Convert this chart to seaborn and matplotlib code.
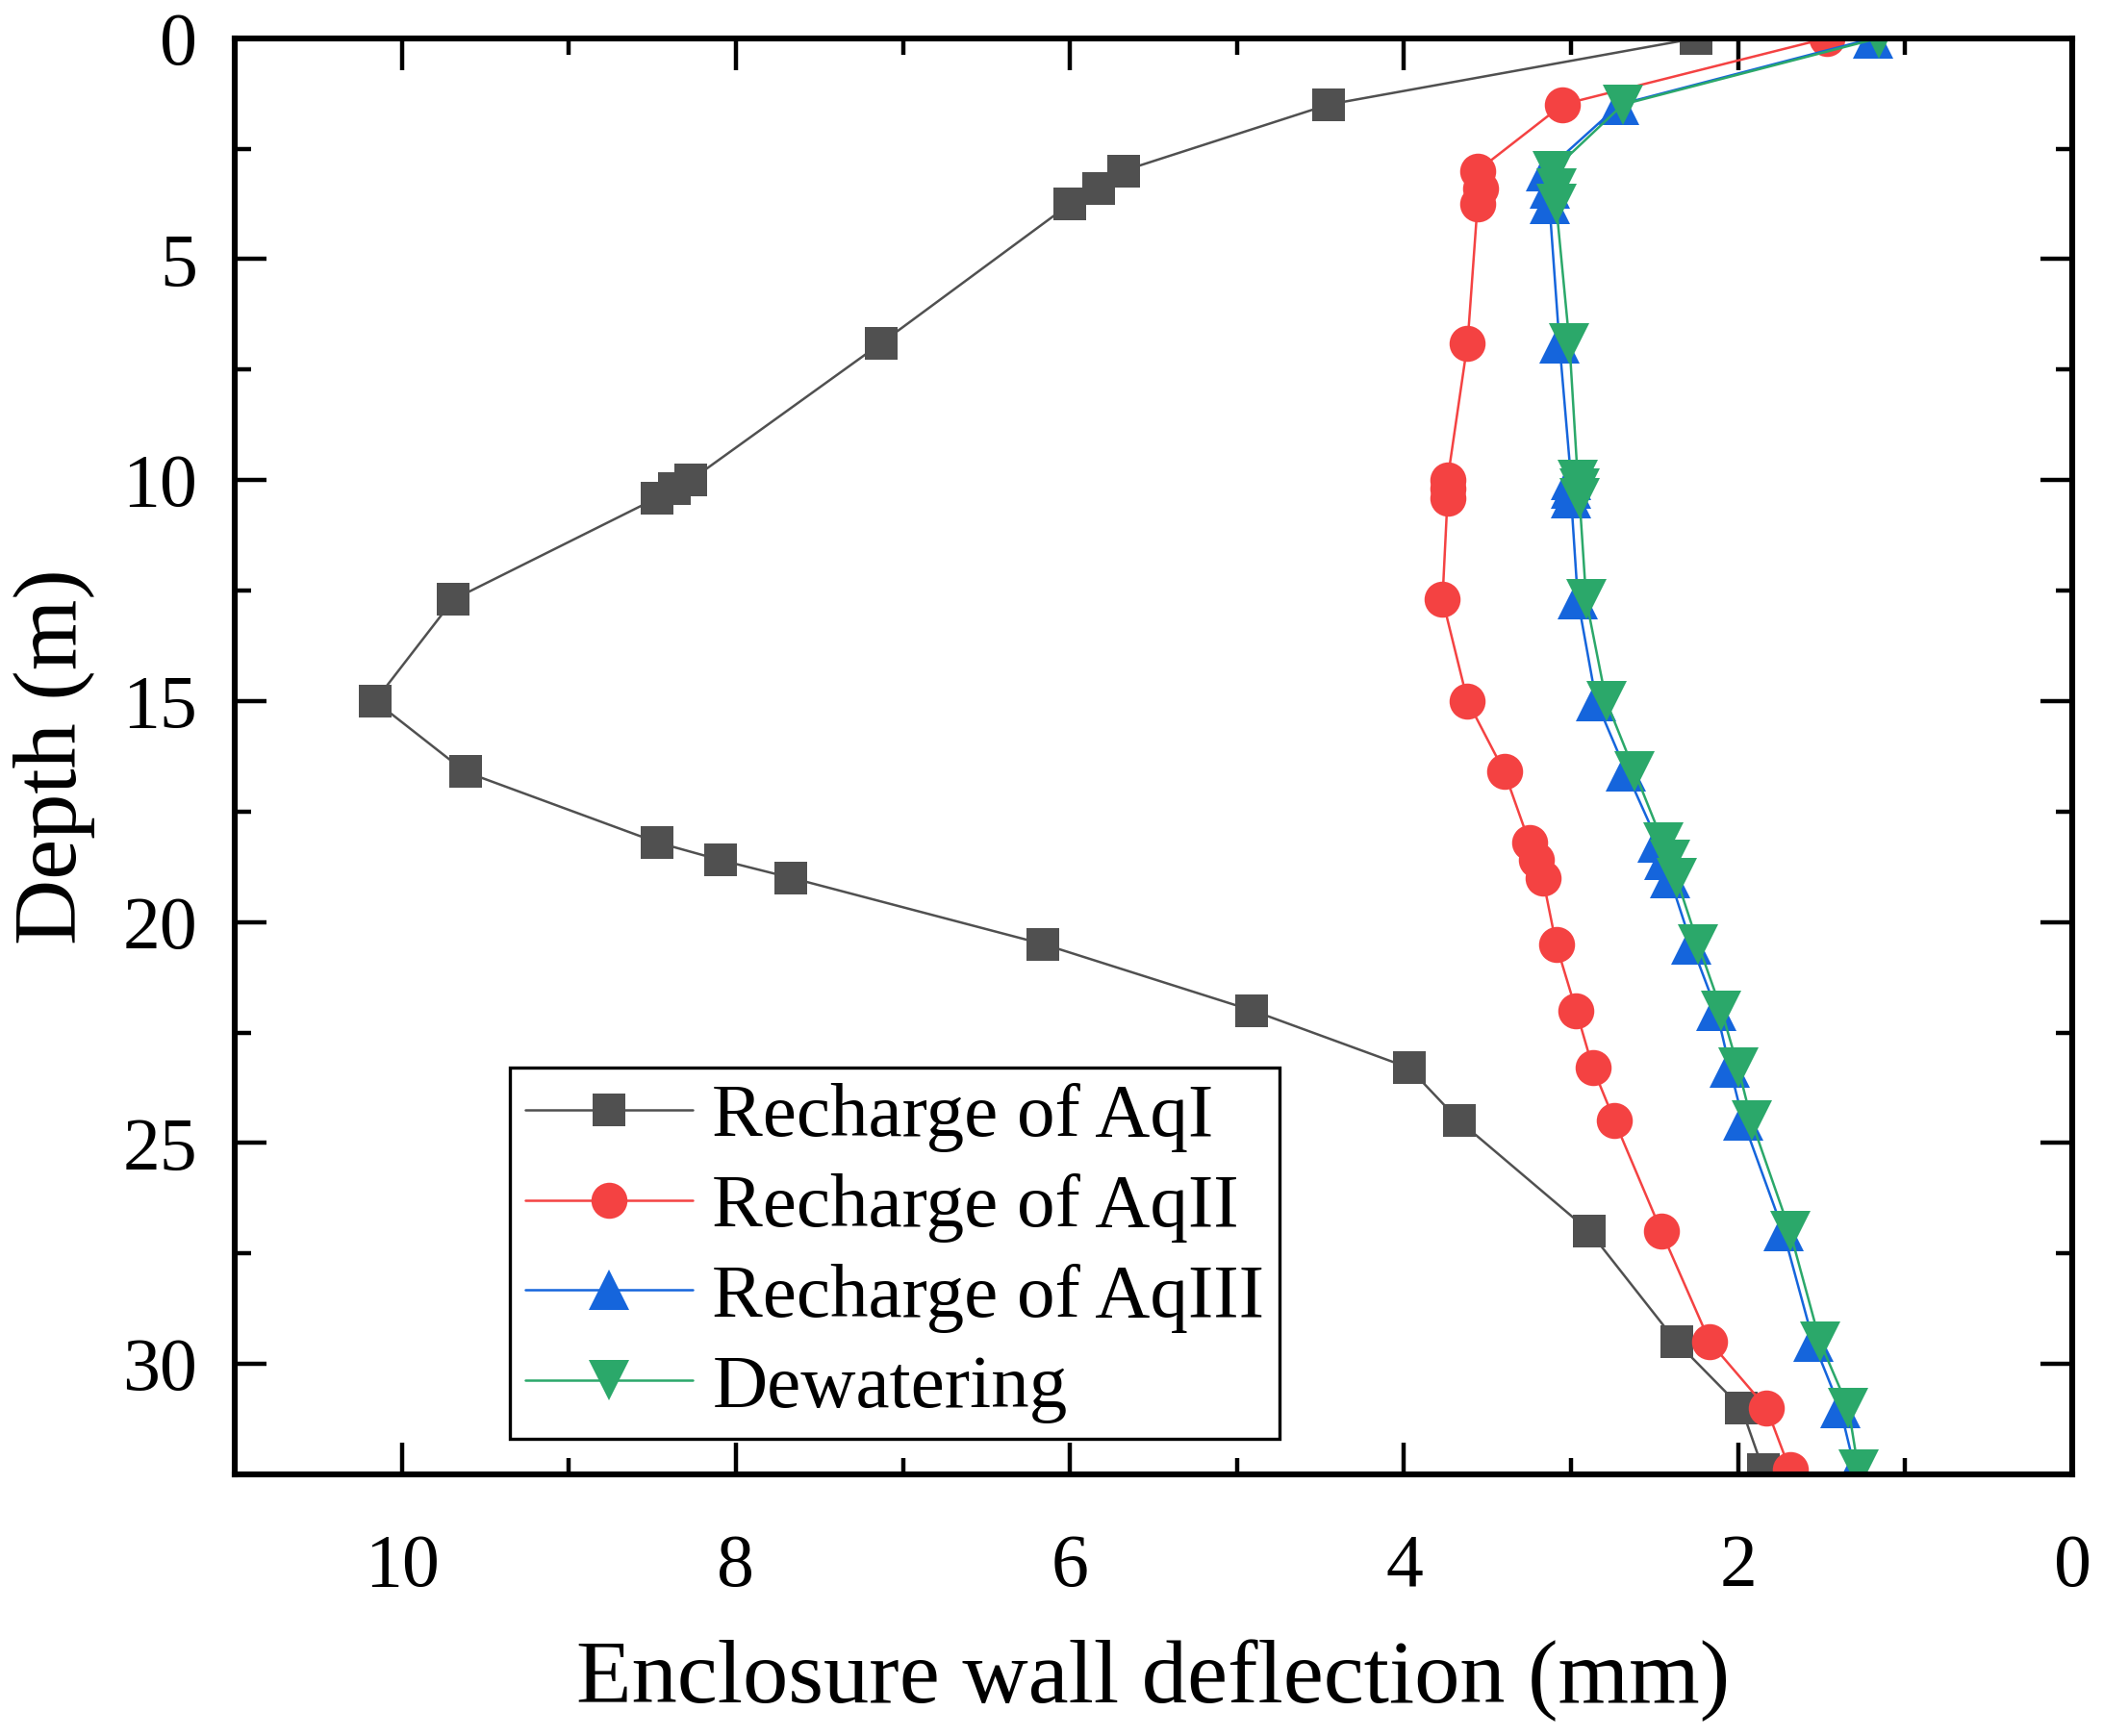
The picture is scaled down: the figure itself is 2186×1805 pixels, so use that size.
import numpy as np
import pandas as pd
import matplotlib
matplotlib.use("Agg")
import matplotlib.pyplot as plt
import seaborn as sns
from matplotlib.ticker import MultipleLocator

# depth of each monitoring point (m)
depth = [0, 1.5, 3.0, 3.4, 3.75, 6.9, 10.0, 10.2, 10.4, 12.7, 15.0, 16.6,
         18.2, 18.6, 19.0, 20.5, 22.0, 23.3, 24.5, 27.0, 29.5, 31.0, 32.4]

# wall deflection (mm) for each case
recharge_aq1 = [2.25, 4.45, 5.68, 5.83, 6.0, 7.13, 8.27, 8.37, 8.47, 9.69, 10.16, 9.62,
                8.47, 8.09, 7.67, 6.16, 4.91, 3.97, 3.67, 2.89, 2.37, 1.98, 1.85]
recharge_aq2 = [1.47, 3.05, 3.56, 3.54, 3.56, 3.62, 3.74, 3.74, 3.74, 3.77, 3.62, 3.40,
                3.25, 3.21, 3.17, 3.09, 2.97, 2.87, 2.74, 2.46, 2.17, 1.83, 1.69]
recharge_aq3 = [1.19, 2.71, 3.15, 3.13, 3.13, 3.07, 3.00, 3.00, 3.00, 2.96, 2.85, 2.67,
                2.48, 2.44, 2.41, 2.28, 2.13, 2.05, 1.97, 1.73, 1.55, 1.39, 1.30]
dewatering = [1.16, 2.69, 3.11, 3.09, 3.09, 3.01, 2.96, 2.95, 2.95, 2.91, 2.79, 2.62,
              2.45, 2.41, 2.37, 2.24, 2.10, 2.00, 1.92, 1.69, 1.51, 1.34, 1.28]

labels = ["Recharge of AqI", "Recharge of AqII", "Recharge of AqIII", "Dewatering"]
colors = ["#505050", "#F44242", "#1565DC", "#2BA86A"]
markers = ["s", "o", "^", "v"]
msizes = [12.5, 13.5, 15, 15]

sns.set_style("white")
plt.rcParams['font.family'] = ['Liberation Serif', 'DejaVu Serif']
plt.rcParams['text.color'] = 'black'
plt.rcParams['axes.labelcolor'] = 'black'
plt.rcParams['xtick.color'] = 'black'
plt.rcParams['ytick.color'] = 'black'

fig = plt.figure(figsize=(10.93, 9.025), dpi=200)
ax = fig.add_axes([0.1116, 0.1507, 0.8738, 0.8273])

series = [recharge_aq1, recharge_aq2, recharge_aq3, dewatering]
for vals, lab, c, m, ms in zip(series, labels, colors, markers, msizes):
    df = pd.DataFrame({"deflection": vals, "depth": depth})
    sns.lineplot(data=df, x="deflection", y="depth", sort=False, estimator=None,
                 ax=ax, color=c, marker=m, markersize=ms, markeredgewidth=0,
                 linewidth=0.9, label=lab)

ax.set_xlim(11, 0)
ax.set_ylim(32.5, 0)
ax.xaxis.set_major_locator(MultipleLocator(2))
ax.xaxis.set_minor_locator(MultipleLocator(1))
ax.yaxis.set_major_locator(MultipleLocator(5))
ax.yaxis.set_minor_locator(MultipleLocator(2.5))

for s in ax.spines.values():
    s.set_linewidth(2.2)
    s.set_color("black")

ax.tick_params(which="both", direction="in", top=True, right=True, bottom=True, left=True,
               width=1.6, color="black")
ax.tick_params(which="major", length=12, labelsize=28, labelcolor="black")
ax.tick_params(which="minor", length=6)
ax.tick_params(axis="x", which="major", pad=22)
ax.tick_params(axis="y", which="major", pad=14)

ax.set_xlabel("Enclosure wall deflection (mm)", fontsize=34, labelpad=14, color="black")
ax.set_ylabel("Depth (m)", fontsize=34, labelpad=10, color="black")

leg = ax.legend(loc="lower left", bbox_to_anchor=(0.15, 0.025), fontsize=28.5,
                frameon=True, fancybox=False, edgecolor="black", framealpha=1,
                handlelength=2.2, handletextpad=0.25, labelspacing=0.27,
                borderpad=0.2, borderaxespad=0)
leg.get_frame().set_linewidth(1.2)
for t in leg.get_texts():
    t.set_color("black")

fig.savefig("out.png", dpi=200)
